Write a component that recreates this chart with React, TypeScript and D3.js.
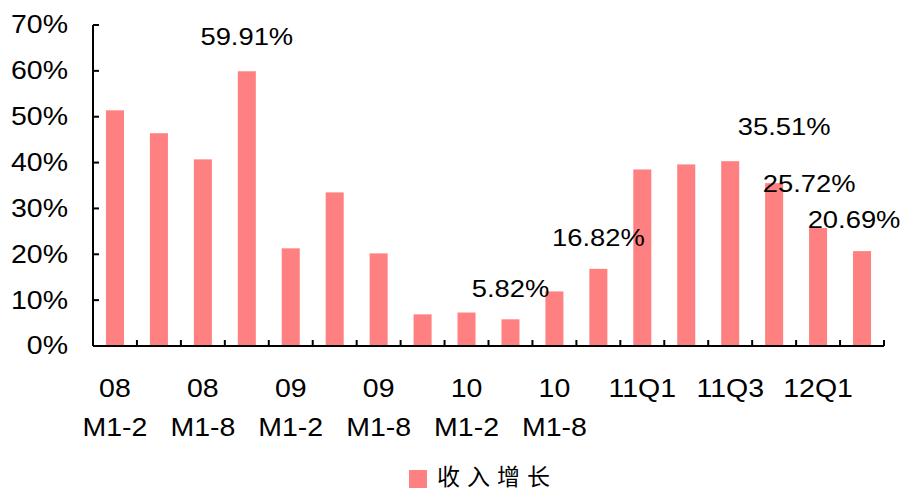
import * as d3 from "d3";

const categories = [
  "08 M1-2", "08 M1-5", "08 M1-8", "08 M1-11",
  "09 M1-2", "09 M1-5", "09 M1-8", "09 M1-11",
  "10 M1-2", "10 M1-5", "10 M1-8", "10 M1-11",
  "11Q1", "11Q2", "11Q3", "11Q4", "12Q1", "12Q2",
];
const shownLabels = [
  ["08", "M1-2"], null, ["08", "M1-8"], null,
  ["09", "M1-2"], null, ["09", "M1-8"], null,
  ["10", "M1-2"], null, ["10", "M1-8"], null,
  ["11Q1"], null, ["11Q3"], null, ["12Q1"], null,
];
const revenueGrowth = [
  51.4, 46.4, 40.7, 59.91, 21.3, 33.5, 20.2, 6.9, 7.3,
  5.82, 11.9, 16.82, 38.5, 39.6, 40.3, 35.51, 25.72, 20.69,
];
const yTicks = [0, 10, 20, 30, 40, 50, 60, 70];
const annotated = [3, 9, 11, 15, 16, 17];
// label nudges (dx, dy from bar top), as placed in the original
const annotationNudge = [
  [0, -26], [0, -22], [0, -23], [10, -48], [-9, -36], [-8, -23],
];
const seriesName = "收入增长";

const W = 904;
const H = 491;
const left = 93;
const right = 884;
const top = 25;
const bottom = 346;
const barColor = "#FF8080";
const font = "'Liberation Sans', Arial, sans-serif";
const stretch = 1.14;

export default function App() {
  const x = d3
    .scaleBand<string>()
    .domain(categories)
    .range([left, right])
    .paddingInner(0.59)
    .paddingOuter(0.295);
  const y = d3.scaleLinear().domain([0, 70]).range([bottom, top]);
  const step = x.step();
  const cx = (i: number) => (x(categories[i]) as number) + x.bandwidth() / 2;

  const stretchedText = (
    key: string,
    tx: number,
    ty: number,
    text: string,
    size: number,
    anchor: "start" | "middle" | "end",
    baseline?: string
  ) => (
    <text
      key={key}
      transform={`translate(${tx},${ty}) scale(${stretch},1)`}
      textAnchor={anchor}
      dominantBaseline={baseline}
      fontSize={size}
      fontFamily={font}
      fill="#000"
    >
      {text}
    </text>
  );

  return (
    <svg
      width={W}
      height={H}
      style={{ position: "absolute", left: 0, top: 0, background: "#fff" }}
    >
      {/* bars */}
      {revenueGrowth.map((v, i) => (
        <rect
          key={categories[i]}
          x={x(categories[i])}
          y={y(v)}
          width={x.bandwidth()}
          height={y(0) - y(v)}
          fill={barColor}
        />
      ))}

      {/* y axis */}
      <line x1={left} x2={left} y1={top} y2={bottom} stroke="#000" strokeWidth={2} />
      {yTicks.map((t) => (
        <g key={t}>
          <line x1={left} x2={left + 6} y1={y(t)} y2={y(t)} stroke="#000" strokeWidth={2} />
          {stretchedText("yt" + t, 68, y(t), `${t}%`, 25, "end", "central")}
        </g>
      ))}

      {/* x axis */}
      <line x1={left} x2={right} y1={bottom} y2={bottom} stroke="#000" strokeWidth={2} />
      {d3.range(categories.length + 1).map((i) => (
        <line
          key={"xt" + i}
          x1={left + i * step}
          x2={left + i * step}
          y1={bottom}
          y2={bottom - 6}
          stroke="#000"
          strokeWidth={2}
        />
      ))}
      {shownLabels.map((lines, i) =>
        lines
          ? lines.map((ln, j) =>
              stretchedText(`xl${i}-${j}`, cx(i), 397 + j * 39, ln, 25, "middle")
            )
          : null
      )}

      {/* annotations */}
      {annotated.map((idx, k) =>
        stretchedText(
          "an" + idx,
          cx(idx) + annotationNudge[k][0],
          y(revenueGrowth[idx]) + annotationNudge[k][1],
          `${revenueGrowth[idx].toFixed(2)}%`,
          24,
          "middle"
        )
      )}

      {/* legend */}
      <rect x={409} y={470} width={18} height={18} fill={barColor} />
      <text
        x={437}
        y={485}
        fontSize={23}
        letterSpacing={7}
        fontFamily="'Noto Sans CJK SC', sans-serif"
        fill="#000"
      >
        {seriesName}
      </text>
    </svg>
  );
}
